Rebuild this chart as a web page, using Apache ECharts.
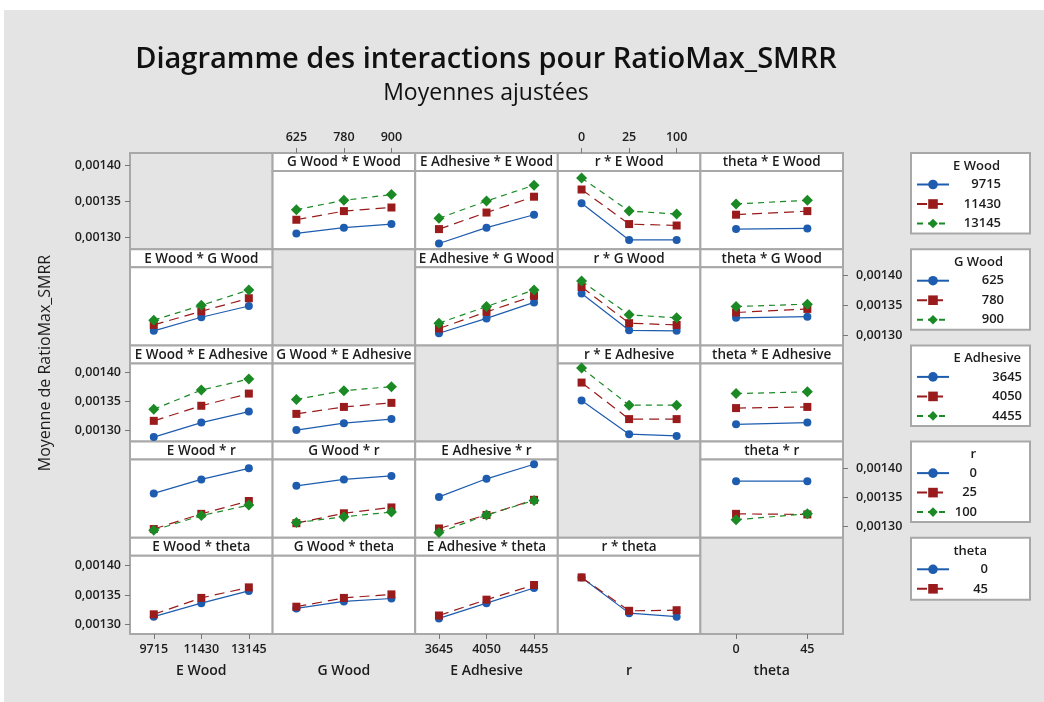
<!DOCTYPE html>
<html>
<head>
<meta charset="utf-8">
<script src="https://cdn.jsdelivr.net/npm/echarts@6/dist/echarts.min.js"></script>
<style>
  html, body { margin: 0; padding: 0; background: #ffffff; }
  #chart { width: 1044px; height: 702px; }
</style>
</head>
<body>
<div id="chart"></div>
<script>
// ---- factors and their levels ----
const factorNames = ['E Wood', 'G Wood', 'E Adhesive', 'r', 'theta'];
const levelsEWood = ['9715', '11430', '13145'];
const levelsGWood = ['625', '780', '900'];
const levelsEAdhesive = ['3645', '4050', '4455'];
const levelsR = ['0', '25', '100'];
const levelsTheta = ['0', '45'];
const yTickValues = [0.00130, 0.00135, 0.00140];

// ---- adjusted means: one row per trace level, one column per x level ----
// trace = E Wood
const gWoodByEWood     = [[0.001305, 0.001313, 0.001318], [0.001324, 0.001336, 0.001341], [0.001338, 0.001351, 0.001359]];
const eAdhesiveByEWood = [[0.001291, 0.001313, 0.001331], [0.001311, 0.001334, 0.001356], [0.001326, 0.001350, 0.001372]];
const rByEWood         = [[0.001347, 0.001296, 0.001296], [0.001366, 0.001318, 0.001316], [0.001382, 0.001336, 0.001332]];
const thetaByEWood     = [[0.001311, 0.001312], [0.001331, 0.001336], [0.001346, 0.001351]];
// trace = G Wood
const eWoodByGWood     = [[0.001307, 0.001330, 0.001349], [0.001317, 0.001340, 0.001362], [0.001325, 0.001350, 0.001376]];
const eAdhesiveByGWood = [[0.001303, 0.001328, 0.001355], [0.001311, 0.001339, 0.001366], [0.001320, 0.001348, 0.001376]];
const rByGWood         = [[0.001370, 0.001308, 0.001307], [0.001381, 0.001320, 0.001317], [0.001391, 0.001334, 0.001329]];
const thetaByGWood     = [[0.001329, 0.001331], [0.001338, 0.001344], [0.001348, 0.001352]];
// trace = E Adhesive
const eWoodByEAdhesive = [[0.001289, 0.001314, 0.001333], [0.001317, 0.001343, 0.001364], [0.001337, 0.001370, 0.001389]];
const gWoodByEAdhesive = [[0.001301, 0.001313, 0.001320], [0.001329, 0.001341, 0.001348], [0.001354, 0.001369, 0.001376]];
const rByEAdhesive     = [[0.001352, 0.001294, 0.001291], [0.001383, 0.001320, 0.001320], [0.001408, 0.001344, 0.001344]];
const thetaByEAdhesive = [[0.001311, 0.001314], [0.001339, 0.001341], [0.001364, 0.001367]];
// trace = r
const eWoodByR         = [[0.001357, 0.001381, 0.001400], [0.001296, 0.001322, 0.001344], [0.001294, 0.001319, 0.001337]];
const gWoodByR         = [[0.001370, 0.001381, 0.001387], [0.001306, 0.001323, 0.001333], [0.001307, 0.001317, 0.001325]];
const eAdhesiveByR     = [[0.001351, 0.001382, 0.001407], [0.001297, 0.001320, 0.001346], [0.001290, 0.001320, 0.001345]];
const thetaByR         = [[0.001378, 0.001378], [0.001322, 0.001321], [0.001312, 0.001322]];
// trace = theta
const eWoodByTheta     = [[0.001313, 0.001336, 0.001357], [0.001317, 0.001345, 0.001363]];
const gWoodByTheta     = [[0.001327, 0.001339, 0.001344], [0.001330, 0.001345, 0.001351]];
const eAdhesiveByTheta = [[0.001310, 0.001336, 0.001362], [0.001315, 0.001342, 0.001367]];
const rByTheta         = [[0.001380, 0.001319, 0.001313], [0.001380, 0.001323, 0.001324]];

// ---- matrix lookup: [trace factor][x factor] ----
const levels = [levelsEWood, levelsGWood, levelsEAdhesive, levelsR, levelsTheta];
const panelMeans = [
  [null, gWoodByEWood, eAdhesiveByEWood, rByEWood, thetaByEWood],
  [eWoodByGWood, null, eAdhesiveByGWood, rByGWood, thetaByGWood],
  [eWoodByEAdhesive, gWoodByEAdhesive, null, rByEAdhesive, thetaByEAdhesive],
  [eWoodByR, gWoodByR, eAdhesiveByR, null, thetaByR],
  [eWoodByTheta, gWoodByTheta, eAdhesiveByTheta, rByTheta, null]
];

// ---- layout & styling ----
const L = { x0: 130, y0: 153, cw: 142.6, rh: 96.2, strip: 18 };
// value shown at the bottom and top edge of each matrix row
const rowRange = [
  [0.0012831, 0.0014167],
  [0.0012825, 0.0014447],
  [0.0012812, 0.0014471],
  [0.0012810, 0.0014457],
  [0.0012834, 0.0014476]
];
const FONT = "'Open Sans', 'Noto Sans', sans-serif";
const TEXT = '#1c1c1c';
const FRAME = '#a8a8a8';
const BG = '#e4e4e4';
const TICK = '#777777';
const traceStyles = [
  { color: '#1d5cae', symbol: 'circle',  size: 8,  dash: 'solid' },
  { color: '#9a1b1b', symbol: 'rect',    size: 8,  dash: [10, 6] },
  { color: '#1b8a25', symbol: 'diamond', size: 11, dash: [6, 5] }
];

const cellX = j => L.x0 + j * L.cw;
const rowTop = i => L.y0 + i * L.rh;
const tickFmt = v => v.toFixed(5).replace('.', ',');

const grids = [], xAxes = [], yAxes = [], series = [], graphics = [], legends = [];

// page margins and cell frames
graphics.push({ type: 'rect', silent: true, z: 0, shape: { x: 0, y: 0, width: 1044, height: 10 }, style: { fill: '#ffffff' } });
graphics.push({ type: 'rect', silent: true, z: 0, shape: { x: 0, y: 0, width: 4, height: 702 }, style: { fill: '#ffffff' } });

for (let i = 0; i < 5; i++) {
  for (let j = 0; j < 5; j++) {
    if (i === j) {
      graphics.push({ type: 'rect', silent: true, z: 0,
        shape: { x: cellX(j), y: rowTop(i), width: L.cw, height: L.rh },
        style: { fill: BG, stroke: FRAME, lineWidth: 2 } });
      continue;
    }
    graphics.push({ type: 'rect', silent: true, z: 0,
      shape: { x: cellX(j), y: rowTop(i), width: L.cw, height: L.strip },
      style: { fill: '#ffffff', stroke: FRAME, lineWidth: 2 } });
    graphics.push({ type: 'rect', silent: true, z: 0,
      shape: { x: cellX(j), y: rowTop(i) + L.strip, width: L.cw, height: L.rh - L.strip },
      style: { fill: '#ffffff', stroke: FRAME, lineWidth: 2 } });
    graphics.push({ type: 'text', silent: true, z: 1,
      x: cellX(j) + L.cw / 2, y: rowTop(i) + L.strip / 2 + 0.5,
      style: { text: factorNames[j] + ' * ' + factorNames[i], fill: TEXT,
        font: '600 13.5px ' + FONT, align: 'center', verticalAlign: 'middle' } });

    // panel grid with its own axes
    const g = grids.length;
    grids.push({ left: cellX(j), top: rowTop(i) + L.strip, width: L.cw, height: L.rh - L.strip,
      show: false, containLabel: false, outerBoundsMode: 'none' });
    xAxes.push({ gridIndex: g, type: 'category', data: levels[j], boundaryGap: true, show: false });
    const lo = rowRange[i][0], hi = rowRange[i][1];
    yAxes.push({ gridIndex: g, type: 'value', show: false, scale: true,
      min: lo, max: lo + (hi - lo) * (L.rh - L.strip) / L.rh });
    panelMeans[i][j].forEach((vals, k) => {
      const s = traceStyles[k];
      series.push({
        type: 'line', name: factorNames[i] + '|' + levels[i][k],
        xAxisIndex: g, yAxisIndex: g, data: vals, clip: false,
        symbol: s.symbol, symbolSize: s.size, showSymbol: true,
        lineStyle: { color: s.color, width: 1.2, type: s.dash },
        itemStyle: { color: s.color },
        emphasis: { disabled: true }, z: 3 + k, animation: false
      });
    });
  }
}

// row value axes (left for rows 0, 2, 4; right for rows 1, 3)
for (let i = 0; i < 5; i++) {
  const col = (i % 2 === 0) ? 0 : 4;
  const g = grids.length;
  grids.push({ left: cellX(col), top: rowTop(i), width: L.cw, height: L.rh,
    show: false, containLabel: false, outerBoundsMode: 'none' });
  xAxes.push({ gridIndex: g, type: 'value', show: false, min: 0, max: 1 });
  yAxes.push({ gridIndex: g, type: 'value', position: col === 0 ? 'left' : 'right',
    min: rowRange[i][0], max: rowRange[i][1], scale: true,
    axisLine: { show: false, onZero: false }, splitLine: { show: false },
    axisTick: { show: true, customValues: yTickValues, length: 5, lineStyle: { color: TICK, width: 1 } },
    axisLabel: { show: true, customValues: yTickValues, formatter: tickFmt,
      margin: col === 0 ? 9 : 13, fontFamily: FONT, fontSize: 12.5, fontWeight: 600, color: TEXT } });
}

// column category axes (top for G Wood and r, bottom for the others; names at the bottom)
for (let j = 0; j < 5; j++) {
  const onTop = (j === 1 || j === 3);
  const g = grids.length;
  grids.push({ left: cellX(j), top: L.y0, width: L.cw, height: 5 * L.rh,
    show: false, containLabel: false, outerBoundsMode: 'none' });
  yAxes.push({ gridIndex: g, type: 'value', show: false, min: 0, max: 1 });
  const labelStyle = { margin: 9, fontFamily: FONT, fontSize: 12.5, fontWeight: 600, color: TEXT };
  xAxes.push({ gridIndex: g, type: 'category', data: levels[j], position: 'top', show: onTop,
    boundaryGap: true, axisLine: { show: false, onZero: false }, splitLine: { show: false },
    axisTick: { show: true, alignWithLabel: true, length: 5, lineStyle: { color: TICK } },
    axisLabel: Object.assign({ show: true }, labelStyle) });
  xAxes.push({ gridIndex: g, type: 'category', data: levels[j], position: 'bottom', show: true,
    boundaryGap: true, axisLine: { show: false, onZero: false }, splitLine: { show: false },
    axisTick: { show: !onTop, alignWithLabel: true, length: 5, lineStyle: { color: TICK } },
    axisLabel: Object.assign({ show: !onTop }, labelStyle),
    name: factorNames[j], nameLocation: 'middle', nameGap: 30,
    nameTextStyle: { fontFamily: FONT, fontSize: 14, fontWeight: 600, color: TEXT } });
}

// legends: one boxed key per trace factor
const measureCtx = document.createElement('canvas').getContext('2d');
const textWidth = (t, f) => { measureCtx.font = f; return measureCtx.measureText(t).width; };
const legendFont = '600 13px ' + FONT;
const LG = { boxX: 911, boxW: 119, iconX: 916, iconW: 32, step: 18.5 };
for (let i = 0; i < 5; i++) {
  const top = rowTop(i);
  const n = levels[i].length;
  const colW = Math.ceil(Math.max(textWidth(factorNames[i], legendFont),
    ...levels[i].map(l => textWidth(l, legendFont))));
  const textRight = LG.iconX + LG.iconW + 5 + colW;
  graphics.push({ type: 'rect', silent: true, z: 0,
    shape: { x: LG.boxX, y: top, width: LG.boxW, height: 25 + n * LG.step },
    style: { fill: '#ffffff', stroke: FRAME, lineWidth: 2 } });
  graphics.push({ type: 'text', silent: true, z: 1, x: textRight, y: top + 13,
    style: { text: factorNames[i], fill: TEXT, font: legendFont, align: 'right', verticalAlign: 'middle' } });
  legends.push({
    show: true, orient: 'vertical', left: LG.iconX, top: top + 31 - 6,
    padding: 0, itemWidth: LG.iconW, itemHeight: 12, itemGap: LG.step - 12,
    selectedMode: false,
    data: levels[i].map(l => factorNames[i] + '|' + l),
    formatter: name => '{v|' + name.split('|')[1] + '}',
    textStyle: { rich: { v: { width: colW, align: 'right', fontFamily: FONT,
      fontSize: 13, fontWeight: 600, color: TEXT, lineHeight: 12 } } }
  });
}

// titles
graphics.push({ type: 'text', silent: true, z: 1, x: 486, y: 60,
  style: { text: 'Diagramme des interactions pour RatioMax_SMRR', fill: '#111111',
    font: '600 29px ' + FONT, align: 'center', verticalAlign: 'middle' } });
graphics.push({ type: 'text', silent: true, z: 1, x: 486, y: 93,
  style: { text: 'Moyennes ajustées', fill: '#111111',
    font: '400 23px ' + FONT, align: 'center', verticalAlign: 'middle' } });
graphics.push({ type: 'text', silent: true, z: 1, x: 45, y: 363, rotation: Math.PI / 2,
  style: { text: 'Moyenne de RatioMax_SMRR', fill: TEXT,
    font: '400 16px ' + FONT, align: 'center', verticalAlign: 'middle' } });

const chart = echarts.init(document.getElementById('chart'));
chart.setOption({
  backgroundColor: BG,
  animation: false,
  tooltip: { show: false },
  grid: grids,
  xAxis: xAxes,
  yAxis: yAxes,
  legend: legends,
  graphic: { elements: graphics },
  series: series
});
</script>
</body>
</html>
